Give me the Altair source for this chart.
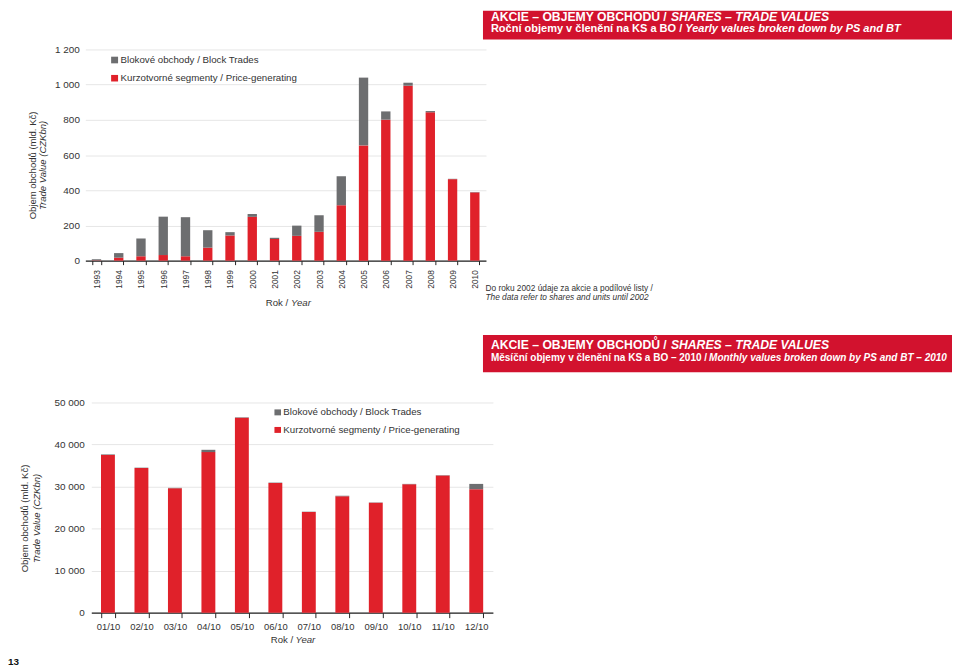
import altair as alt
import pandas as pd

# ---------------- data ----------------
years = [str(y) for y in range(1993, 2011)]
yearly_price_generating = [2, 17, 25, 32, 25, 74, 143, 249, 123, 141, 164, 315, 655, 801, 994, 843, 463, 388]
yearly_block_trades = [6, 26, 101, 218, 222, 99, 19, 16, 7, 58, 94, 165, 385, 47, 17, 7, 2, 2]
yearly_ticks = [0, 200, 400, 600, 800, 1000, 1200]

months = ["01/10", "02/10", "03/10", "04/10", "05/10", "06/10",
          "07/10", "08/10", "09/10", "10/10", "11/10", "12/10"]
monthly_price_generating = [37500, 34400, 29600, 38190, 46350, 30850, 23950, 27720, 26150, 30550, 32600, 29370]
monthly_block_trades = [140, 90, 90, 550, 110, 90, 70, 80, 70, 80, 80, 1260]
monthly_ticks = [0, 10000, 20000, 30000, 40000, 50000]

PG_LABEL = "Kurzotvorné segmenty / Price-generating"
BT_LABEL = "Blokové obchody / Block Trades"

RED = "#e0212a"
GRAY = "#6d6e70"
BANNER = "#d2122e"
TXT = "#333333"
FONT = "Liberation Sans"


def long_table(cats, pg, bt, key):
    rows = []
    for c, p, b in zip(cats, pg, bt):
        rows.append({key: c, "segment": PG_LABEL, "value": p, "ord": 0})
        rows.append({key: c, "segment": BT_LABEL, "value": b, "ord": 1})
    return pd.DataFrame(rows)


df_yearly = long_table(years, yearly_price_generating, yearly_block_trades, "year")
df_monthly = long_table(months, monthly_price_generating, monthly_block_trades, "month")

LABEL_EXPR = "replace(format(datum.value, ','), ',', ' ')"


def text(t, x, y, size, weight="normal", style="normal", color=TXT, align="left", angle=0):
    kw = dict(align=align, baseline="middle", fontSize=size, font=FONT,
              fontWeight=weight, fontStyle=style, color=color)
    if angle:
        kw["angle"] = angle
    return alt.Chart(pd.DataFrame({"t": [t]})).mark_text(**kw).encode(
        text="t:N", x=alt.value(x), y=alt.value(y))


def rect(x, x2, y, y2, color):
    return alt.Chart(pd.DataFrame({"k": [0]})).mark_rect(color=color).encode(
        x=alt.value(x), x2=alt.value(x2), y=alt.value(y), y2=alt.value(y2))


color_enc = alt.Color("segment:N", scale=alt.Scale(domain=[PG_LABEL, BT_LABEL], range=[RED, GRAY]), legend=None)

# ---------------- top: yearly ----------------
top_bars = alt.Chart(df_yearly).mark_bar().encode(
    x=alt.X("year:N", sort=years,
            scale=alt.Scale(range=[-6, 398], paddingInner=0.58, paddingOuter=0.29),
            axis=alt.Axis(title=None, labelAngle=-90, labelFontSize=8.5, labelFont=FONT, labelColor=TXT,
                          labelPadding=5, domainColor="#222222", domainWidth=1.3, tickColor="#222222",
                          tickSize=4, tickBand="extent", grid=False)),
    y=alt.Y("value:Q", stack="zero", scale=alt.Scale(domain=[0, 1200], nice=False),
            axis=alt.Axis(values=yearly_ticks, labelExpr=LABEL_EXPR, title=None, domain=False, ticks=False,
                          labelPadding=12, labelFontSize=10, labelFont=FONT, labelColor=TXT,
                          gridColor="#e6e6e6")),
    color=color_enc,
    order=alt.Order("ord:Q", sort="ascending"),
)

top_decor = [
    rect(395, 868, -39, -10, BANNER),
    text("AKCIE – OBJEMY OBCHODŮ / ", 403, -32.8, 12.3, "bold", color="white"),
    text("SHARES – TRADE VALUES", 584.5, -32.8, 12.3, "bold", "italic", color="white"),
    text("Roční objemy v členění na KS a BO / ", 403, -20.2, 11.1, "bold", color="white"),
    text("Yearly values broken down by PS and BT", 599, -20.2, 11.1, "bold", "italic", color="white"),
    rect(20, 27, 7.3, 14, GRAY),
    text(BT_LABEL, 29.5, 10.7, 9.8),
    rect(20, 27, 25.7, 32.3, RED),
    text(PG_LABEL, 29.5, 29, 9.8),
    text("Objem obchodů (mld. Kč)", -58.7, 117, 9.6, align="center", angle=270),
    text("Trade Value (CZKbn)", -48.7, 117, 9.6, style="italic", align="center", angle=270),
    text("Rok / ", 176, 256, 9.7),
    text("Year", 201.5, 256, 9.7, style="italic"),
    text("Do roku 2002 údaje za akcie a podílové listy /", 397.5, 240.3, 8.4),
    text("The data refer to shares and units until 2002", 397.5, 249.7, 8.4, style="italic"),
]

top = alt.layer(top_bars, *top_decor).properties(width=405, height=213)

# ---------------- bottom: monthly ----------------
bottom_bars = alt.Chart(df_monthly).mark_bar().encode(
    x=alt.X("month:N", sort=months,
            scale=alt.Scale(paddingInner=0.585, paddingOuter=0.29),
            axis=alt.Axis(title=None, labelAngle=0, labelFontSize=9.5, labelFont=FONT, labelColor=TXT,
                          labelPadding=4, domainColor="#222222", domainWidth=1.3, tickColor="#222222",
                          tickSize=5, tickBand="extent", grid=False)),
    y=alt.Y("value:Q", stack="zero", scale=alt.Scale(domain=[0, 50000], nice=False),
            axis=alt.Axis(values=monthly_ticks, labelExpr=LABEL_EXPR, title=None, domain=False, ticks=False,
                          labelPadding=7, labelFontSize=10, labelFont=FONT, labelColor=TXT,
                          gridColor="#e6e6e6")),
    color=color_enc,
    order=alt.Order("ord:Q", sort="ascending"),
)

bottom_decor = [
    rect(395, 868, -68, -30.5, BANNER),
    text("AKCIE – OBJEMY OBCHODŮ / ", 403, -57.5, 12.3, "bold", color="white"),
    text("SHARES – TRADE VALUES", 584.5, -57.5, 12.3, "bold", "italic", color="white"),
    text("Měsíční objemy v členění na KS a BO – 2010 / ", 403, -45, 10.1, "bold", color="white"),
    text("Monthly values broken down by PS and BT – 2010", 623, -45, 10.1, "bold", "italic", color="white"),
    rect(184.7, 191.3, 7, 13, GRAY),
    text(BT_LABEL, 193.7, 10, 9.8),
    rect(184.7, 191.3, 24.7, 30.7, RED),
    text(PG_LABEL, 193.7, 28, 9.8),
    text("Objem obchodů (mld. Kč)", -67, 117, 9.6, align="center", angle=270),
    text("Trade Value (CZKbn)", -54.7, 117, 9.6, style="italic", align="center", angle=270),
    text("Rok / ", 181, 240, 9.7),
    text("Year", 206, 240, 9.7, style="italic"),
    text("13", -84, 262, 10, "bold", color="#111111"),
]

bottom = alt.layer(bottom_bars, *bottom_decor).properties(width=405, height=212)

chart = alt.vconcat(top, bottom, spacing=143, bounds="flush").properties(
    padding=0
).configure_view(stroke=None)

chart.save("out.html", embed_options={"renderer": "svg", "actions": False})
